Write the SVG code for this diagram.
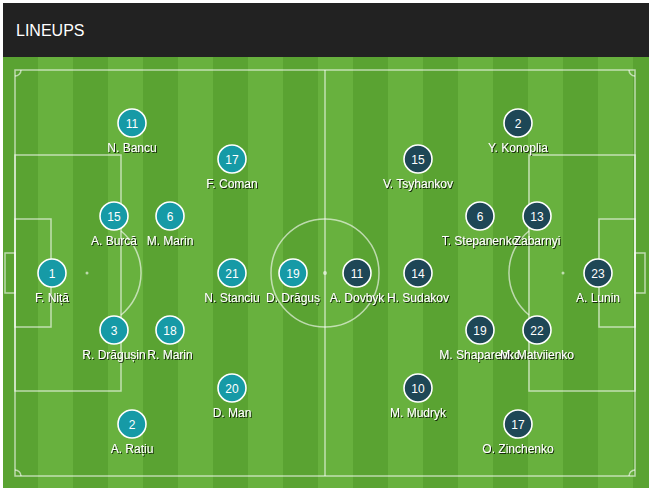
<svg xmlns="http://www.w3.org/2000/svg" width="653" height="493" viewBox="0 0 653 493">
<defs>
<style>
.ln{fill:none;stroke:#ffffff;stroke-opacity:0.6;stroke-width:1.5}
.sd{fill:#ffffff;fill-opacity:0.6}
.dk{fill:#5aa332}
.lt{fill:#68b13e}
.home circle{fill:#169aa6;stroke:#ffffff;stroke-width:1.6}
.away circle{fill:#1e4756;stroke:#ffffff;stroke-width:1.6}
.num{font-family:"Liberation Sans",Arial,sans-serif;font-size:12px;fill:#ffffff;text-anchor:middle}
.nm{font-family:"Liberation Sans",Arial,sans-serif;font-size:12px;fill:#ffffff;text-anchor:middle;filter:url(#ts)}
</style>
<filter id="ts" x="-10%" y="-30%" width="120%" height="160%">
<feDropShadow dx="1" dy="1" stdDeviation="0.6" flood-color="#000000" flood-opacity="0.75"/>
</filter>
</defs>
<rect x="0" y="0" width="653" height="493" fill="#ffffff"/>
<g id="header">
<rect x="3" y="3" width="646" height="54" fill="#222222"/>
<text x="16" y="36" font-family="'Liberation Sans',Arial,sans-serif" font-size="16" fill="#ffffff">LINEUPS</text>
</g>
<g id="pitch">
<rect class="dk" x="3" y="57" width="646" height="431"/>
<rect class="lt" x="38" y="57" width="35" height="431"/>
<rect class="lt" x="108" y="57" width="35" height="431"/>
<rect class="lt" x="178" y="57" width="35" height="431"/>
<rect class="lt" x="248" y="57" width="35" height="431"/>
<rect class="lt" x="318" y="57" width="35" height="431"/>
<rect class="lt" x="388" y="57" width="35" height="431"/>
<rect class="lt" x="458" y="57" width="35" height="431"/>
<rect class="lt" x="528" y="57" width="35" height="431"/>
<rect class="lt" x="598" y="57" width="35" height="431"/>
<rect class="ln" x="15" y="70" width="620" height="406"/>
<line class="ln" x1="325" y1="70" x2="325" y2="476"/>
<circle class="ln" cx="325" cy="273" r="54"/>
<circle class="sd" cx="325" cy="273" r="2"/>
<rect class="ln" x="15" y="155" width="106" height="236"/>
<rect class="ln" x="15" y="219" width="36" height="108"/>
<rect class="ln" x="5" y="253" width="10" height="40"/>
<circle class="sd" cx="87" cy="273" r="1.5"/>
<path class="ln" d="M121,231 A54,54 0 0 1 121,315"/>
<rect class="ln" x="529" y="155" width="106" height="236"/>
<rect class="ln" x="599" y="219" width="36" height="108"/>
<rect class="ln" x="635" y="253" width="10" height="40"/>
<circle class="sd" cx="563" cy="273" r="1.5"/>
<path class="ln" d="M529,231 A54,54 0 0 0 529,315"/>
<path class="ln" d="M15,76 A6,6 0 0 0 21,70"/>
<path class="ln" d="M629,70 A6,6 0 0 0 635,76"/>
<path class="ln" d="M15,470 A6,6 0 0 1 21,476"/>
<path class="ln" d="M629,476 A6,6 0 0 1 635,470"/>
</g>
<g id="connectors"></g>
<g class="home">
<g id="p-nita"><circle cx="52" cy="273" r="14"/><text class="num" x="52" y="277.5">1</text><text class="nm" x="52" y="302">F. Niță</text></g>
<g id="p-burca"><circle cx="114" cy="216" r="14"/><text class="num" x="114" y="220.5">15</text><text class="nm" x="114" y="245">A. Burcă</text></g>
<g id="p-mmarin"><circle cx="170" cy="216" r="14"/><text class="num" x="170" y="220.5">6</text><text class="nm" x="170" y="245">M. Marin</text></g>
<g id="p-dragusin"><circle cx="114" cy="330" r="14"/><text class="num" x="114" y="334.5">3</text><text class="nm" x="114" y="359">R. Drăgușin</text></g>
<g id="p-rmarin"><circle cx="170" cy="330" r="14"/><text class="num" x="170" y="334.5">18</text><text class="nm" x="170" y="359">R. Marin</text></g>
<g id="p-bancu"><circle cx="132" cy="123" r="14"/><text class="num" x="132" y="127.5">11</text><text class="nm" x="132" y="152">N. Bancu</text></g>
<g id="p-ratiu"><circle cx="132" cy="424" r="14"/><text class="num" x="132" y="428.5">2</text><text class="nm" x="132" y="453">A. Rațiu</text></g>
<g id="p-coman"><circle cx="232" cy="159" r="14"/><text class="num" x="232" y="163.5">17</text><text class="nm" x="232" y="188">F. Coman</text></g>
<g id="p-stanciu"><circle cx="232" cy="273" r="14"/><text class="num" x="232" y="277.5">21</text><text class="nm" x="232" y="302">N. Stanciu</text></g>
<g id="p-man"><circle cx="232" cy="388" r="14"/><text class="num" x="232" y="392.5">20</text><text class="nm" x="232" y="417">D. Man</text></g>
<g id="p-dragus"><circle cx="293" cy="273" r="14"/><text class="num" x="293" y="277.5">19</text><text class="nm" x="293" y="302">D. Drăguș</text></g>
</g>
<g class="away">
<g id="p-dovbyk"><circle cx="357" cy="273" r="14"/><text class="num" x="357" y="277.5">11</text><text class="nm" x="357" y="302">A. Dovbyk</text></g>
<g id="p-sudakov"><circle cx="418" cy="273" r="14"/><text class="num" x="418" y="277.5">14</text><text class="nm" x="418" y="302">H. Sudakov</text></g>
<g id="p-tsyhankov"><circle cx="418" cy="159" r="14"/><text class="num" x="418" y="163.5">15</text><text class="nm" x="418" y="188">V. Tsyhankov</text></g>
<g id="p-mudryk"><circle cx="418" cy="388" r="14"/><text class="num" x="418" y="392.5">10</text><text class="nm" x="418" y="417">M. Mudryk</text></g>
<g id="p-stepanenko"><circle cx="480" cy="216" r="14"/><text class="num" x="480" y="220.5">6</text><text class="nm" x="480" y="245">T. Stepanenko</text></g>
<g id="p-zabarnyi"><circle cx="537" cy="216" r="14"/><text class="num" x="537" y="220.5">13</text><text class="nm" x="537" y="245">Zabarnyi</text></g>
<g id="p-shaparenko"><circle cx="480" cy="330" r="14"/><text class="num" x="480" y="334.5">19</text><text class="nm" x="480" y="359">M. Shaparenko</text></g>
<g id="p-matviienko"><circle cx="537" cy="330" r="14"/><text class="num" x="537" y="334.5">22</text><text class="nm" x="537" y="359">M. Matviienko</text></g>
<g id="p-konoplia"><circle cx="518" cy="123" r="14"/><text class="num" x="518" y="127.5">2</text><text class="nm" x="518" y="152">Y. Konoplia</text></g>
<g id="p-zinchenko"><circle cx="518" cy="424" r="14"/><text class="num" x="518" y="428.5">17</text><text class="nm" x="518" y="453">O. Zinchenko</text></g>
<g id="p-lunin"><circle cx="598" cy="273" r="14"/><text class="num" x="598" y="277.5">23</text><text class="nm" x="598" y="302">A. Lunin</text></g>
</g>
</svg>
